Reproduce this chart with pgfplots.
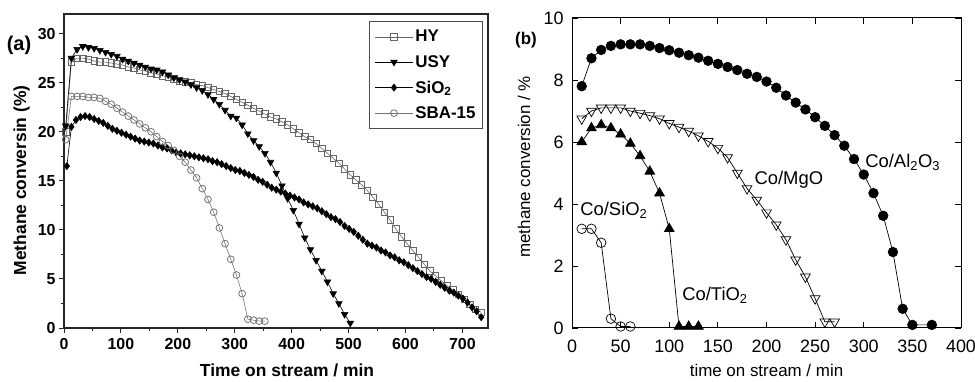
\documentclass[border=0pt]{standalone}
\usepackage{fontspec}
\setmainfont{Liberation Sans}
\usepackage{pgfplots}
\pgfplotsset{compat=1.18}
\begin{document}
\begin{tikzpicture}
\path[use as bounding box] (0bp,0bp) rectangle (975bp,382bp);
% ---------------- panel (a)
\begin{axis}[
  at={(64bp,54bp)}, anchor=south west, scale only axis,
  width=424bp, height=314bp,
  xmin=0, xmax=745, ymin=0, ymax=32,
  xtick={0,100,...,700}, ytick={0,5,...,30},
  minor x tick num=1, minor y tick num=1,
  tick pos=left, tick align=outside,
  major tick length=5bp, minor tick length=3bp,
  axis line style={line width=1.3bp, black!85},
  every tick/.style={black!85, line width=1bp},
  /pgf/number format/assume math mode=true,
  ticklabel style={font=\fontsize{16}{18}\selectfont\bfseries},
  xticklabel style={yshift=-2bp},
  xlabel={Time on stream / min}, ylabel={Methane conversin (\%)},
  label style={font=\fontsize{17.5}{20}\selectfont\bfseries},
  x label style={at={(axis description cs:0.526,-0.1338)}, anchor=center},
  y label style={at={(axis description cs:-0.1,0.47)}, anchor=center},
  legend style={at={(0.988,0.978)}, anchor=north east, draw=black!70, line width=0.8bp,
    font=\fontsize{17}{19}\selectfont\bfseries, row sep=8bp, inner xsep=5bp, inner ysep=7bp},
  legend cell align=left,
  legend image code/.code={\draw[mark repeat=2,mark phase=2] plot coordinates {(0bp,0bp)(19bp,0bp)(38bp,0bp)};},
]
\addplot[black!60, line width=0.6bp, mark=square, mark size=3.2bp, mark options={fill=white, line width=0.8bp}] coordinates {
(3,20.0)(13,27.1)(23,27.5)(33,27.5)(43,27.4)(53,27.2)(63,27.1)(73,27.1)(83,27.0)(93,26.9)
(103,26.8)(113,26.6)(123,26.5)(133,26.3)(143,26.2)(153,26.0)(163,25.9)(173,25.7)(183,25.6)(193,25.4)
(203,25.2)(213,25.1)(223,25.0)(233,24.8)(243,24.7)(253,24.5)(263,24.3)(273,24.1)(283,23.9)(293,23.6)
(303,23.3)(313,23.0)(323,22.7)(333,22.4)(343,22.1)(353,21.8)(363,21.5)(373,21.3)(383,21.0)(393,20.7)
(403,20.3)(413,19.9)(423,19.5)(433,19.2)(443,18.8)(453,18.3)(463,17.8)(473,17.3)(483,16.8)(493,16.2)
(503,15.6)(513,15.1)(523,14.6)(533,14.0)(543,13.3)(553,12.6)(563,11.8)(573,11.0)(583,10.1)(593,9.3)
(603,8.6)(613,7.9)(623,7.2)(633,6.5)(643,5.8)(653,5.3)(663,4.8)(673,4.3)(683,3.9)(693,3.4)
(703,2.9)(713,2.4)(723,1.9)(733,1.6)};
\addlegendentry{HY}
\addplot[black, line width=0.6bp, mark=triangle*, mark size=3.8bp, mark options={rotate=180}] coordinates {
(3,20.6)(13,27.5)(23,28.4)(33,28.7)(43,28.6)(53,28.5)(63,28.3)(73,28.1)(83,27.9)(93,27.7)
(103,27.4)(113,27.2)(123,27.0)(133,26.8)(143,26.6)(153,26.4)(163,26.3)(173,26.1)(183,25.8)(193,25.5)
(203,25.3)(213,25.1)(223,24.8)(233,24.5)(243,24.2)(253,23.8)(263,23.3)(273,22.8)(283,22.2)(293,21.6)
(303,21.4)(313,20.7)(323,19.8)(333,19.1)(343,18.5)(353,17.8)(363,16.9)(373,15.8)(383,14.5)(393,13.2)
(403,12.0)(413,10.6)(423,9.2)(433,8.0)(443,6.9)(453,5.8)(463,4.7)(473,3.5)(483,2.5)(493,1.4)
(503,0.5)};
\addlegendentry{USY}
\addplot[black, line width=0.6bp, mark=diamond*, mark size=3.6bp] coordinates {
(5,16.5)(13,20.5)(21,21.2)(29,21.5)(37,21.6)(45,21.5)(53,21.3)(61,21.1)(69,20.9)(77,20.6)
(85,20.3)(93,20.1)(101,19.9)(109,19.7)(117,19.5)(125,19.3)(133,19.1)(141,19.0)(149,18.9)(157,18.8)
(165,18.6)(173,18.4)(181,18.3)(189,18.1)(197,17.9)(205,17.8)(213,17.7)(221,17.6)(229,17.5)(237,17.4)
(245,17.3)(253,17.2)(261,17.0)(269,16.9)(277,16.7)(285,16.5)(293,16.3)(301,16.1)(309,16.0)(317,15.8)
(325,15.6)(333,15.4)(341,15.1)(349,14.9)(357,14.6)(365,14.3)(373,14.1)(381,13.9)(389,13.7)(397,13.5)
(405,13.3)(413,13.1)(421,12.8)(429,12.6)(437,12.4)(445,12.2)(453,11.9)(461,11.6)(469,11.3)(477,11.1)
(485,10.8)(493,10.4)(501,10.1)(509,9.8)(517,9.4)(525,9.0)(533,8.6)(541,8.4)(549,8.2)(557,7.9)
(565,7.7)(573,7.4)(581,7.2)(589,6.9)(597,6.7)(605,6.4)(613,6.1)(621,5.8)(629,5.5)(637,5.2)
(645,5.0)(653,4.7)(661,4.4)(669,4.1)(677,3.8)(685,3.6)(693,3.3)(701,3.0)(709,2.6)(717,2.1)
(725,1.7)(733,1.1)};
\addlegendentry{SiO\textsubscript{2}}
\addplot[black!55, line width=0.6bp, mark=o, mark size=3.4bp, mark options={fill=white, line width=0.8bp}] coordinates {
(3,19.2)(13,23.6)(23,23.6)(33,23.6)(43,23.5)(53,23.5)(63,23.4)(73,23.1)(83,22.8)(93,22.4)
(103,22.0)(113,21.6)(123,21.2)(133,20.8)(143,20.4)(153,20.0)(163,19.5)(173,19.0)(183,18.6)(193,18.1)
(203,17.5)(213,16.9)(223,16.1)(233,15.3)(243,14.2)(253,13.1)(263,11.8)(273,10.2)(283,8.6)(293,7.0)
(303,5.4)(313,3.5)(323,0.9)(333,0.8)(343,0.7)(353,0.7)};
\addlegendentry{SBA-15}
\end{axis}
\node[font=\fontsize{20}{22}\selectfont\bfseries] at (19bp,337bp) {(a)};
% ---------------- panel (b)
\begin{axis}[
  at={(572bp,54bp)}, anchor=south west, scale only axis,
  width=389bp, height=310bp,
  xmin=0, xmax=400, ymin=0, ymax=10,
  xtick={0,50,...,400}, ytick={0,2,...,10},
  tick align=inside, major tick length=6bp,
  axis line style={line width=1bp},
  every tick/.style={line width=0.9bp},
  /pgf/number format/assume math mode=true,
  ticklabel style={font=\fontsize{18}{20}\selectfont},
  xticklabel style={yshift=-8bp},
  yticklabel style={xshift=-5bp},
  xlabel={time on stream / min}, ylabel={methane conversion / \%},
  label style={font=\fontsize{17}{19}\selectfont},
  x label style={at={(axis description cs:0.5,-0.1355)}, anchor=center},
  y label style={at={(axis description cs:-0.1234,0.52)}, anchor=center},
]
\addplot[black, line width=0.7bp, mark=*, mark size=4.8bp] coordinates {
(10,7.8)(20,8.7)(30,8.97)(40,9.1)(50,9.15)(60,9.15)(70,9.15)(80,9.1)(90,9.03)(100,8.96)
(110,8.88)(120,8.8)(130,8.72)(140,8.62)(150,8.52)(160,8.42)(170,8.32)(180,8.2)(190,8.1)(200,7.95)
(210,7.75)(220,7.5)(230,7.27)(240,7.05)(250,6.8)(260,6.52)(270,6.22)(280,5.88)(290,5.45)(300,4.95)
(310,4.35)(320,3.62)(330,2.45)(340,0.62)(350,0.1)(370,0.1)};
\addplot[black, line width=0.7bp, mark=triangle, mark size=5.6bp, mark options={rotate=180, fill=white, line width=0.7bp}] coordinates {
(10,6.75)(20,7.0)(30,7.1)(40,7.1)(50,7.1)(60,7.0)(70,6.93)(80,6.85)(90,6.75)(100,6.6)
(110,6.48)(120,6.35)(130,6.2)(140,6.02)(150,5.8)(160,5.5)(170,5.0)(180,4.5)(190,4.13)(200,3.72)
(210,3.33)(220,2.85)(230,2.2)(240,1.65)(250,0.95)(260,0.2)(270,0.2)};
\addplot[black, line width=0.7bp, mark=triangle*, mark size=5.6bp] coordinates {
(10,6.0)(20,6.45)(30,6.55)(40,6.45)(50,6.25)(60,5.95)(70,5.55)(80,5.05)(90,4.35)(100,3.2)
(110,0.05)(120,0.05)(130,0.05)};
\addplot[black, line width=0.7bp, mark=o, mark size=4.8bp, mark options={fill=white}] coordinates {
(10,3.2)(20,3.2)(30,2.75)(40,0.3)(50,0.05)(60,0.05)};
\node[font=\fontsize{18.5}{20}\selectfont] at (axis cs:340,5.35) {Co/Al\textsubscript{2}O\textsubscript{3}};
\node[font=\fontsize{18.5}{20}\selectfont] at (axis cs:223,4.77) {Co/MgO};
\node[font=\fontsize{18.5}{20}\selectfont] at (axis cs:43,3.8) {Co/SiO\textsubscript{2}};
\node[font=\fontsize{18.5}{20}\selectfont] at (axis cs:147,1.06) {Co/TiO\textsubscript{2}};
\end{axis}
\node[font=\fontsize{17}{19}\selectfont\bfseries] at (526bp,342bp) {(b)};
\end{tikzpicture}
\end{document}
